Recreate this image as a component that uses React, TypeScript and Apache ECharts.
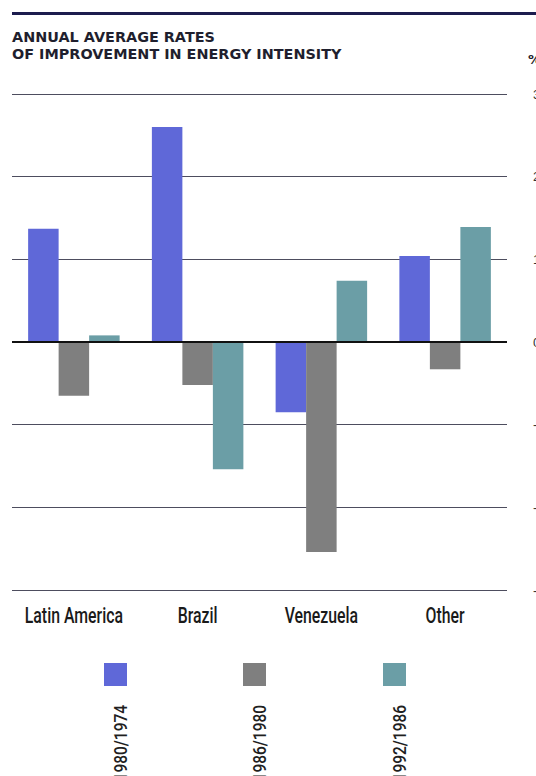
import React, { useEffect, useRef } from "react";
import * as echarts from "echarts";

const categories = ["Latin America", "Brazil", "Venezuela", "Other"];
const seriesNames = ["1980/1974", "1986/1980", "1992/1986"];
const s1980_1974 = [1.37, 2.6, -0.85, 1.04];
const s1986_1980 = [-0.65, -0.52, -2.54, -0.33];
const s1992_1986 = [0.08, -1.54, 0.74, 1.39];
const seriesColors = ["#5f68d8", "#7f7f7f", "#6b9ea6"];
const yTicks = [-3, -2, -1, 0, 1, 2, 3];

export default function App() {
  const ref = useRef<HTMLDivElement>(null);
  useEffect(() => {
    const chart = echarts.init(ref.current!, null, { renderer: "svg" });
    const values = [s1980_1974, s1986_1980, s1992_1986];
    const legendX = [104, 243, 383];
    const graphics: any[] = [
      { type: "line", shape: { x1: 12, y1: 13.5, x2: 536, y2: 13.5 }, style: { stroke: "#1c1c4e", lineWidth: 3 } },
      { type: "text", x: 12, y: 30, style: { text: "ANNUAL AVERAGE RATES", font: "bold 14.4px 'DejaVu Sans'", fill: "#1f1f2e", verticalAlign: "top" } },
      { type: "text", x: 12, y: 47, style: { text: "OF IMPROVEMENT IN ENERGY INTENSITY", font: "bold 14.4px 'DejaVu Sans'", fill: "#1f1f2e", verticalAlign: "top" } },
      { type: "text", x: 528, y: 53, style: { text: "%", font: "bold 13px 'DejaVu Sans'", fill: "#1f1f2e", verticalAlign: "top" } },
    ];
    seriesNames.forEach((n, i) => {
      graphics.push({ type: "rect", shape: { x: legendX[i], y: 663, width: 23, height: 23 }, style: { fill: seriesColors[i] } });
      graphics.push({
        type: "text",
        x: legendX[i] + 17,
        y: 705,
        rotation: Math.PI / 2,
        scaleX: 0.86,
        style: { text: n, font: "500 18px Roboto", fill: "#1f1f1f", align: "right", verticalAlign: "middle" },
      });
    });
    chart.setOption({
      animation: false,
      backgroundColor: "#ffffff",
      grid: { left: 12, right: 29, top: 94, bottom: 186, containLabel: false, outerBoundsMode: "none" },
      xAxis: {
        type: "category",
        data: categories,
        position: "bottom",
        axisLine: { show: false },
        axisTick: { show: false },
        axisLabel: { show: false },
      },
      yAxis: {
        type: "value",
        position: "right",
        min: -3,
        max: 3,
        interval: 1,
        axisLine: { show: false },
        axisTick: { show: false },
        axisLabel: { margin: 26, fontSize: 13, color: "#333", align: "left", formatter: (v: number) => (yTicks.includes(v) ? String(v) : "") },
        splitLine: { lineStyle: { color: "#4d4d5e", width: 1 } },
      },
      series: [
        ...seriesNames.map((n, i) => ({
          name: n,
          type: "bar",
          data: values[i],
          barWidth: 30.5,
          barGap: "0%",
          barCategoryGap: "26%",
          itemStyle: { color: seriesColors[i] },
          markLine: i === 0 ? { silent: true, symbol: "none", label: { show: false }, lineStyle: { color: "#111", width: 2, type: "solid" }, data: [{ yAxis: 0 }] } : undefined,
        })),
      ],
      graphic: graphics,
    });
    const catLabels = categories.map((c) => {
      const px = chart.convertToPixel({ xAxisIndex: 0 }, c) as number;
      return {
        type: "text",
        x: px,
        y: 616,
        scaleX: 0.72,
        style: { text: c, font: "500 22px Roboto", fill: "#1a1a1a", align: "center", verticalAlign: "middle" },
      };
    });
    chart.setOption({ graphic: [...graphics, ...catLabels] });
    return () => chart.dispose();
  }, []);
  return <div ref={ref} style={{ width: 536, height: 776, position: "absolute", left: 0, top: 0 }} />;
}
